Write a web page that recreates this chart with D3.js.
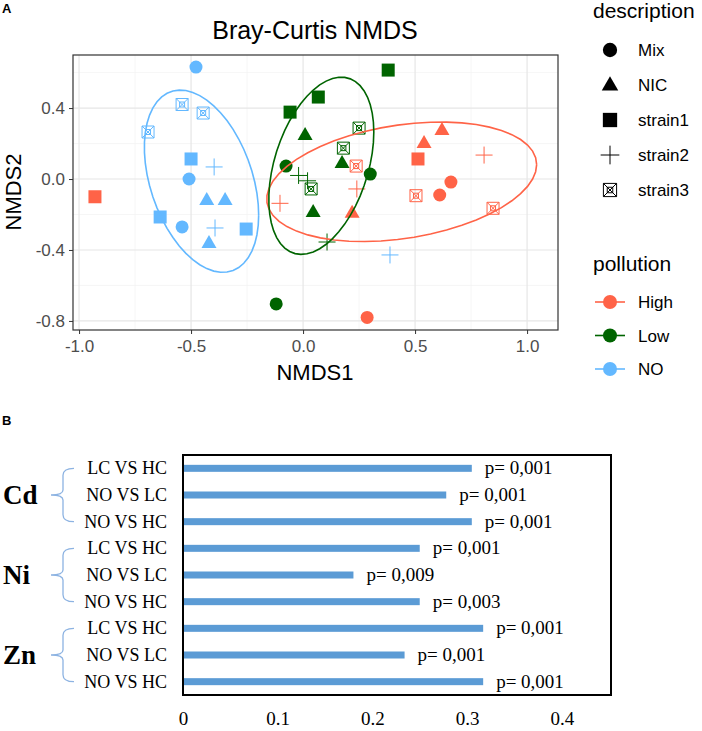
<!DOCTYPE html>
<meta charset="utf-8">
<script src="https://d3js.org/d3.v7.min.js"></script>
<style>
body { margin: 0; background: #fff; }
svg { display: block; }
.sans { font-family: "Liberation Sans", Arial, sans-serif; }
.serif { font-family: "Liberation Serif", "Times New Roman", serif; }
.axA line { stroke: #333; }
.axA path { display: none; }
.axA text { font-family: "Liberation Sans", Arial, sans-serif; font-size: 17px; fill: #4d4d4d; }
.axB path, .axB line { display: none; }
.axB text { font-family: "Liberation Serif", serif; font-size: 19px; fill: #000; }
</style>
<body></body>
<script>

// ---- panel A data (NMDS scores) ----
var pollution = ['High', 'Low', 'NO'];
var descriptions = ['Mix', 'NIC', 'strain1', 'strain2', 'strain3'];
var xTicksA = [-1.0, -0.5, 0.0, 0.5, 1.0];
var yTicksA = [-0.8, -0.4, 0.0, 0.4];

var highPts = [
  ['Mix', 0.66, -0.017], ['Mix', 0.61, -0.09], ['Mix', 0.286, -0.78],
  ['NIC', 0.62, 0.276], ['NIC', 0.54, 0.203], ['NIC', 0.219, -0.19],
  ['strain1', -0.929, -0.10], ['strain1', 0.513, 0.113],
  ['strain2', 0.808, 0.135], ['strain2', 0.24, -0.056], ['strain2', -0.103, -0.137],
  ['strain3', 0.237, 0.073], ['strain3', 0.504, -0.094], ['strain3', 0.848, -0.165]
];
var lowPts = [
  ['Mix', -0.076, 0.073], ['Mix', 0.30, 0.028], ['Mix', -0.12, -0.704],
  ['NIC', 0.009, 0.248], ['NIC', 0.174, 0.09], ['NIC', 0.045, -0.186],
  ['strain1', 0.38, 0.614], ['strain1', 0.068, 0.462], ['strain1', -0.058, 0.377],
  ['strain2', -0.02, 0.02], ['strain2', 0.02, -0.01], ['strain2', 0.107, -0.355],
  ['strain3', 0.25, 0.287], ['strain3', 0.18, 0.174], ['strain3', 0.036, -0.056]
];
var noPts = [
  ['Mix', -0.478, 0.631], ['Mix', -0.509, 0.0], ['Mix', -0.54, -0.27],
  ['NIC', -0.43, -0.118], ['NIC', -0.348, -0.118], ['NIC', -0.42, -0.36],
  ['strain1', -0.50, 0.113], ['strain1', -0.638, -0.214], ['strain1', -0.254, -0.282],
  ['strain2', -0.397, 0.068], ['strain2', -0.393, -0.276], ['strain2', 0.388, -0.428],
  ['strain3', -0.54, 0.42], ['strain3', -0.446, 0.372], ['strain3', -0.692, 0.265]
];

// ---- panel B data ----
var metals = ['Cd', 'Ni', 'Zn'];
var comparisons = ['LC VS HC', 'NO VS LC', 'NO VS HC'];
var cdValues = [0.305, 0.278, 0.305];
var niValues = [0.250, 0.180, 0.250];
var znValues = [0.317, 0.234, 0.317];
var cdP = ['p= 0,001', 'p= 0,001', 'p= 0,001'];
var niP = ['p= 0,001', 'p= 0,009', 'p= 0,003'];
var znP = ['p= 0,001', 'p= 0,001', 'p= 0,001'];
var xTicksB = [0, 0.1, 0.2, 0.3, 0.4];

var colors = {High: '#ff6347', Low: '#006400', NO: '#63b8ff'};
var ellipseLevel = 0.8;

var svg = d3.select('body').append('svg')
  .attr('width', 702).attr('height', 731);

// =================== panel A ===================
var x = d3.scaleLinear().domain([-1.027, 1.138]).range([73, 558]);
var y = d3.scaleLinear().domain([-0.851, 0.699]).range([330, 55]);

svg.append('text').attr('class', 'sans').attr('x', 2).attr('y', 13)
  .style('font-size', '13px').style('font-weight', 'bold').text('A');

var gA = svg.append('g');

// grid
var minorX = [-0.75, -0.25, 0.25, 0.75];
var minorY = [-0.6, -0.2, 0.2, 0.6];
gA.selectAll('.mx').data(minorX).enter().append('line')
  .attr('x1', d => x(d)).attr('x2', d => x(d)).attr('y1', y.range()[0]).attr('y2', y.range()[1])
  .attr('stroke', '#f2f2f2').attr('stroke-width', 0.7);
gA.selectAll('.my').data(minorY).enter().append('line')
  .attr('y1', d => y(d)).attr('y2', d => y(d)).attr('x1', x.range()[0]).attr('x2', x.range()[1])
  .attr('stroke', '#f2f2f2').attr('stroke-width', 0.7);
gA.selectAll('.gx').data(xTicksA).enter().append('line')
  .attr('x1', d => x(d)).attr('x2', d => x(d)).attr('y1', y.range()[0]).attr('y2', y.range()[1])
  .attr('stroke', '#e6e6e6').attr('stroke-width', 1.2);
gA.selectAll('.gy').data(yTicksA).enter().append('line')
  .attr('y1', d => y(d)).attr('y2', d => y(d)).attr('x1', x.range()[0]).attr('x2', x.range()[1])
  .attr('stroke', '#e6e6e6').attr('stroke-width', 1.2);

// symbols
function drawShape(g, shape, col, k) {
  k = k || 1;
  if (shape === 'Mix') {
    g.append('circle').attr('r', 6.5 * k).attr('fill', col);
  } else if (shape === 'NIC') {
    g.append('path').attr('d', 'M0,' + (-8 * k) + 'L' + (7.5 * k) + ',' + (5 * k) + 'L' + (-7.5 * k) + ',' + (5 * k) + 'Z')
      .attr('fill', col);
  } else if (shape === 'strain1') {
    g.append('rect').attr('x', -6.5 * k).attr('y', -6.5 * k).attr('width', 13 * k).attr('height', 13 * k).attr('fill', col);
  } else if (shape === 'strain2') {
    g.append('path').attr('d', 'M' + (-8.5 * k) + ',0H' + (8.5 * k) + 'M0,' + (-8.5 * k) + 'V' + (8.5 * k))
      .attr('stroke', col).attr('stroke-width', 1).attr('fill', 'none');
  } else {
    var s = 6 * k, t = 2.5 * k;
    g.append('path').attr('d', 'M' + (-s) + ',' + (-s) + 'H' + s + 'V' + s + 'H' + (-s) + 'Z' +
        'M' + (-s) + ',' + (-s) + 'L' + s + ',' + s + 'M' + s + ',' + (-s) + 'L' + (-s) + ',' + s +
        'M' + (-t) + ',' + (-t) + 'H' + t + 'V' + t + 'H' + (-t) + 'Z')
      .attr('stroke', col).attr('stroke-width', 1).attr('fill', 'none');
  }
}

var groups = {High: highPts, Low: lowPts, NO: noPts};

pollution.forEach(function(p) {
  groups[p].forEach(function(d) {
    var g = gA.append('g').attr('transform', 'translate(' + x(d[1]) + ',' + y(d[2]) + ')');
    drawShape(g, d[0], colors[p]);
  });
});

// robust t ellipse (like MASS::cov.trob + ggplot stat_ellipse)
function covTrob(pts) {
  var n = pts.length, nu = 5, p = 2;
  var loc = [d3.mean(pts, d => d[0]), d3.mean(pts, d => d[1])];
  var w = pts.map(() => 1), X;
  for (var it = 0; it < 25; it++) {
    var w0 = w.slice();
    X = pts.map(d => [d[0] - loc[0], d[1] - loc[1]]);
    var sw = d3.sum(w), a = 0, b = 0, c = 0;
    X.forEach(function(v, i) { a += w[i] * v[0] * v[0]; b += w[i] * v[0] * v[1]; c += w[i] * v[1] * v[1]; });
    a /= sw; b /= sw; c /= sw;
    var det = a * c - b * b;
    w = X.map(v => (nu + p) / (nu + (c * v[0] * v[0] - 2 * b * v[0] * v[1] + a * v[1] * v[1]) / det));
    var sw2 = d3.sum(w);
    loc = [d3.sum(pts, (d, i) => w[i] * d[0]) / sw2, d3.sum(pts, (d, i) => w[i] * d[1]) / sw2];
    if (d3.max(w, (v, i) => Math.abs(v - w0[i])) < 0.01) break;
  }
  var A = 0, B = 0, C = 0;
  X.forEach(function(v, i) { A += w[i] * v[0] * v[0]; B += w[i] * v[0] * v[1]; C += w[i] * v[1] * v[1]; });
  return {center: loc, cov: [A / n, B / n, C / n]};
}

function ellipse(pts) {
  var f = covTrob(pts.map(d => [d[1], d[2]]));
  var dfd = pts.length - 1;
  var qf = (dfd / 2) * (Math.pow(1 - ellipseLevel, -2 / dfd) - 1);
  var r = Math.sqrt(2 * qf);
  var r11 = Math.sqrt(f.cov[0]), r12 = f.cov[1] / r11, r22 = Math.sqrt(f.cov[2] - r12 * r12);
  return d3.range(52).map(function(i) {
    var t = i / 51 * 2 * Math.PI;
    return [f.center[0] + r * Math.cos(t) * r11, f.center[1] + r * (Math.cos(t) * r12 + Math.sin(t) * r22)];
  });
}

var line = d3.line().x(d => x(d[0])).y(d => y(d[1]));
pollution.forEach(function(p) {
  gA.append('path').attr('d', line(ellipse(groups[p])))
    .attr('fill', 'none').attr('stroke', colors[p]).attr('stroke-width', 1.6);
});

// border
gA.append('rect').attr('x', 73).attr('y', 55).attr('width', 558 - 73).attr('height', 330 - 55)
  .attr('fill', 'none').attr('stroke', '#333').attr('stroke-width', 1.2);

// axes
gA.append('g').attr('class', 'axA').attr('transform', 'translate(0,330)')
  .call(d3.axisBottom(x).tickValues(xTicksA).tickSize(4).tickPadding(6).tickFormat(d => d.toFixed(1)));
gA.append('g').attr('class', 'axA').attr('transform', 'translate(73,0)')
  .call(d3.axisLeft(y).tickValues(yTicksA).tickSize(4).tickPadding(4).tickFormat(d => d.toFixed(1)));

svg.append('text').attr('class', 'sans').attr('x', 315).attr('y', 39).attr('text-anchor', 'middle')
  .style('font-size', '25px').text('Bray-Curtis NMDS');
svg.append('text').attr('class', 'sans').attr('x', 315).attr('y', 380).attr('text-anchor', 'middle')
  .style('font-size', '22px').text('NMDS1');
svg.append('text').attr('class', 'sans').attr('transform', 'translate(21,192) rotate(-90)')
  .attr('text-anchor', 'middle').style('font-size', '22px').text('NMDS2');

// legends
var leg = svg.append('g');
leg.append('text').attr('class', 'sans').attr('x', 593).attr('y', 18).style('font-size', '21px').text('description');
descriptions.forEach(function(d, i) {
  var yy = 50 + i * 35;
  var g = leg.append('g').attr('transform', 'translate(610,' + yy + ')');
  drawShape(g, d, '#000', 1.1);
  leg.append('text').attr('class', 'sans').attr('x', 638).attr('y', yy + 6).style('font-size', '17px').text(d);
});
leg.append('text').attr('class', 'sans').attr('x', 593).attr('y', 271).style('font-size', '21px').text('pollution');
pollution.forEach(function(p, i) {
  var yy = 302 + i * 33.5;
  leg.append('line').attr('x1', 595).attr('x2', 625).attr('y1', yy).attr('y2', yy)
    .attr('stroke', colors[p]).attr('stroke-width', 1.6);
  leg.append('circle').attr('cx', 610).attr('cy', yy).attr('r', 7).attr('fill', colors[p]);
  leg.append('text').attr('class', 'sans').attr('x', 638).attr('y', yy + 6).style('font-size', '17px').text(p);
});

// =================== panel B ===================
svg.append('text').attr('class', 'sans').attr('x', 2).attr('y', 425)
  .style('font-size', '13px').style('font-weight', 'bold').text('B');

var valuesB = {Cd: cdValues, Ni: niValues, Zn: znValues};
var pB = {Cd: cdP, Ni: niP, Zn: znP};
var rows = [];
metals.forEach(function(m) {
  comparisons.forEach(function(c, j) {
    rows.push({metal: m, comp: c, value: valuesB[m][j], p: pB[m][j], key: m + j});
  });
});

var xB = d3.scaleLinear().domain([0, 0.452]).range([183, 611]);
var yB = d3.scaleBand().domain(rows.map(d => d.key)).range([455, 695]);
var bh = 7;

var gB = svg.append('g');
gB.selectAll('.bar').data(rows).enter().append('rect')
  .attr('x', xB(0)).attr('y', d => yB(d.key) + yB.bandwidth() / 2 - bh / 2)
  .attr('width', d => xB(d.value) - xB(0)).attr('height', bh)
  .attr('fill', '#5b9bd5');

gB.selectAll('.plab').data(rows).enter().append('text')
  .attr('class', 'serif').attr('x', d => xB(d.value) + 13)
  .attr('y', d => yB(d.key) + yB.bandwidth() / 2 + 6)
  .style('font-size', '19px').text(d => d.p);

gB.selectAll('.clab').data(rows).enter().append('text')
  .attr('class', 'serif').attr('x', 167).attr('text-anchor', 'end')
  .attr('y', d => yB(d.key) + yB.bandwidth() / 2 + 6)
  .style('font-size', '18px').text(d => d.comp);

// box
gB.append('rect').attr('x', 183).attr('y', 455).attr('width', 611 - 183).attr('height', 695 - 455)
  .attr('fill', 'none').attr('stroke', '#000').attr('stroke-width', 2);

gB.append('g').attr('class', 'axB').attr('transform', 'translate(0,700)')
  .call(d3.axisBottom(xB).tickValues(xTicksB).tickSize(0).tickPadding(12)
    .tickFormat(d => d === 0 ? '0' : d.toFixed(1)));

// braces + metal labels
metals.forEach(function(m) {
  var y0 = yB(m + 0) + yB.bandwidth() / 2, y1 = yB(m + 2) + yB.bandwidth() / 2, ym = (y0 + y1) / 2;
  gB.append('path')
    .attr('d', 'M74,' + y0 + 'Q63,' + y0 + ' 63,' + (y0 + 7) + 'L63,' + (ym - 5) +
      'Q63,' + ym + ' 51,' + ym + 'Q63,' + ym + ' 63,' + (ym + 5) + 'L63,' + (y1 - 7) +
      'Q63,' + y1 + ' 74,' + y1)
    .attr('fill', 'none').attr('stroke', '#8db3e2').attr('stroke-width', 1.3);
  gB.append('text').attr('class', 'serif').attr('x', 3).attr('y', ym + 9)
    .style('font-size', '27px').style('font-weight', 'bold').text(m);
});

</script>
